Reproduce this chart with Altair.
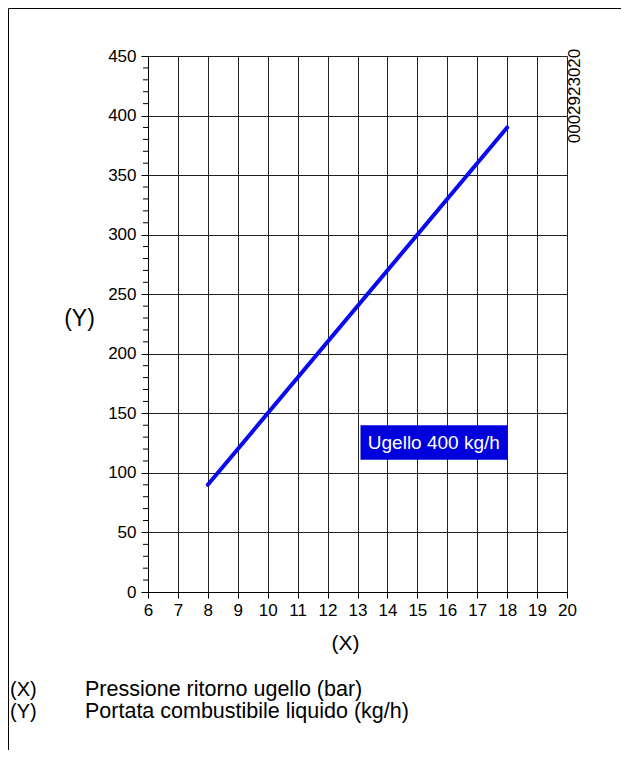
import altair as alt
import pandas as pd

# ---- data ----
pressure = [8, 18]          # bar
flow = [90, 390]            # kg/h
x_ticks = list(range(6, 21))
y_ticks = list(range(0, 451, 50))
y_minor = [v for v in range(0, 451, 10) if v % 50 != 0]
box_x = [13.1, 18.0]
box_y = [111, 140]
box_label = "Ugello 400 kg/h"
legend_keys = ["(X)", "(Y)"]
legend_texts = ["Pressione ritorno ugello (bar)", "Portata combustibile liquido (kg/h)"]
code_text = "0002923020"

FONT = "Liberation Sans"
W, H = 419, 536
PL, PT = 140, 48
PR = 613 - PL - W
PB = 742 - PT - H

xs = alt.Scale(domain=[6, 20], nice=False, zero=False)
ys = alt.Scale(domain=[0, 450], nice=False)

x_axis = alt.Axis(
    values=x_ticks, format="d", title="(X)", titleFont=FONT, titleFontSize=21,
    titleFontWeight="normal", titleColor="black", titleX=197, titleY=51,
    titleBaseline="middle", titleAlign="center",
    labelFont=FONT, labelFontSize=17, labelColor="black", labelPadding=4,
    labelOverlap=False, labelFlush=False,
    tickSize=6, tickColor="black", domainColor="black",
    grid=True, gridColor="#222222", gridOpacity=1, gridWidth=1)
y_axis = alt.Axis(
    values=y_ticks, format="d", title="(Y)", titleFont=FONT, titleFontSize=23,
    titleFontWeight="normal", titleColor="black", titleAngle=0, titleX=-69, titleY=262,
    titleBaseline="middle", titleAlign="center",
    labelFont=FONT, labelFontSize=17, labelColor="black", labelPadding=5,
    labelOverlap=False, labelFlush=False,
    tickSize=7, tickColor="black", domainColor="black",
    grid=True, gridColor="#222222", gridOpacity=1, gridWidth=1)

line_df = pd.DataFrame({"p": pressure, "q": flow})

main = alt.Chart(line_df).mark_line(color="#0a0af0", strokeWidth=4, strokeCap="round").encode(
    x=alt.X("p:Q", scale=xs, axis=x_axis),
    y=alt.Y("q:Q", scale=ys, axis=y_axis),
)

minor = alt.Chart(pd.DataFrame({"q": y_minor})).mark_rule(color="black", strokeWidth=1).encode(
    x=alt.value(-5), x2=alt.value(0),
    y=alt.Y("q:Q", scale=ys, axis=y_axis),
)

box_df = pd.DataFrame({"p": [box_x[0]], "p2": [box_x[1]], "q": [box_y[0]], "q2": [box_y[1]],
                       "pc": [(box_x[0] + box_x[1]) / 2], "qc": [(box_y[0] + box_y[1]) / 2],
                       "t": [box_label]})
box = alt.Chart(box_df).mark_rect(color="#0000dc").encode(
    x=alt.X("p:Q", scale=xs, axis=x_axis), x2="p2:Q",
    y=alt.Y("q:Q", scale=ys, axis=y_axis), y2="q2:Q",
)
box_text = alt.Chart(box_df).mark_text(color="white", font=FONT, fontSize=19,
                                        align="center", baseline="middle").encode(
    x=alt.X("pc:Q", scale=xs, axis=x_axis), y=alt.Y("qc:Q", scale=ys, axis=y_axis), text="t:N",
)

dummy = pd.DataFrame({"a": [0]})
frame_top = alt.Chart(dummy).mark_rule(color="black", strokeWidth=1).encode(
    x=alt.value(-139.5), x2=alt.value(W + PR), y=alt.value(-47.5))
frame_left = alt.Chart(dummy).mark_rule(color="black", strokeWidth=1).encode(
    x=alt.value(-139.5), y=alt.value(-47.5), y2=alt.value(H + PB))

code = alt.Chart(dummy).mark_text(text=code_text, angle=270, font=FONT, fontSize=17,
                                  color="black", align="center", baseline="middle").encode(
    x=alt.value(427), y=alt.value(40))

layers = [frame_top, frame_left, main, minor, box, box_text, code]
row_y = [634, 656]
for k, t, yy in zip(legend_keys, legend_texts, row_y):
    layers.append(alt.Chart(dummy).mark_text(text=k, font=FONT, fontSize=20, color="black",
                                             align="left", baseline="middle").encode(
        x=alt.value(-138), y=alt.value(yy)))
    layers.append(alt.Chart(dummy).mark_text(text=t, font=FONT, fontSize=21.5, color="black",
                                             align="left", baseline="middle").encode(
        x=alt.value(-63), y=alt.value(yy)))

chart = alt.layer(*layers).properties(
    width=W, height=H,
    autosize=alt.AutoSizeParams(type="none"),
    padding={"left": PL, "top": PT, "right": PR, "bottom": PB},
).configure_view(stroke="black", strokeWidth=1).configure(background="white")

chart.save("out.html", embed_options={"renderer": "svg", "actions": False})
